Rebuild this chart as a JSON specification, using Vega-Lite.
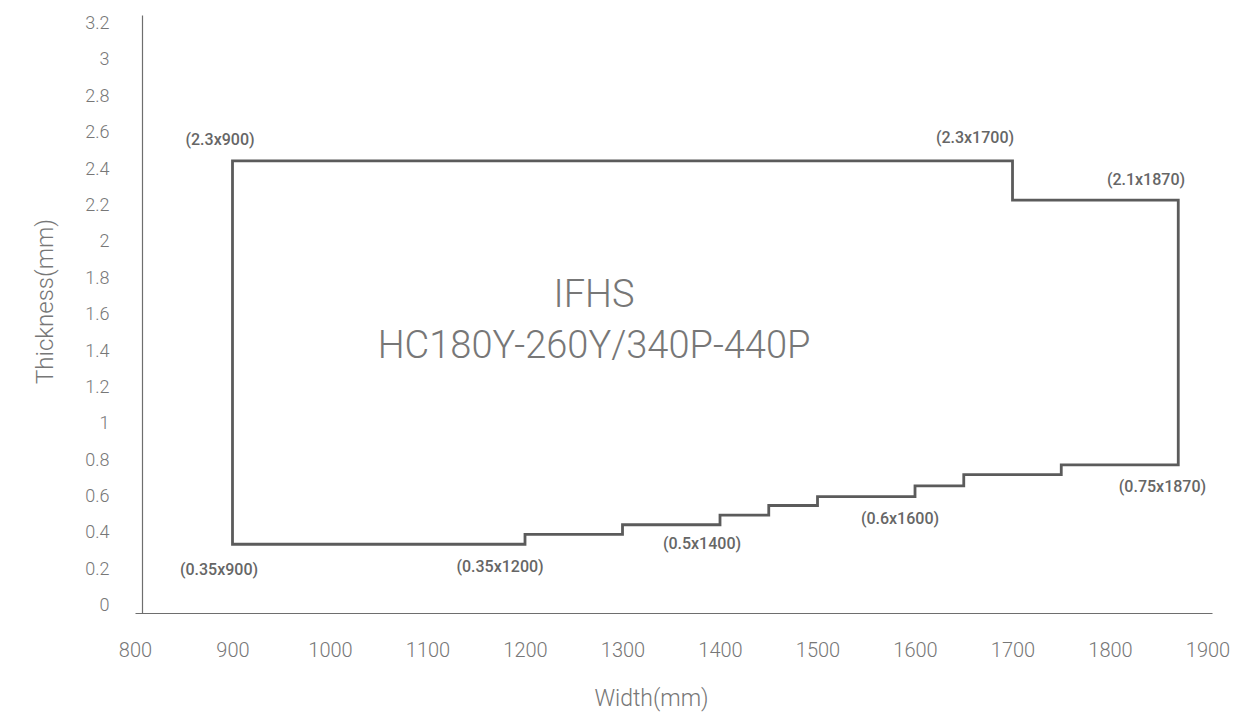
{
  "$schema": "https://vega.github.io/schema/vega-lite/v6.json",
  "width": 1077,
  "height": 598,
  "autosize": {"type": "none"},
  "padding": {"left": 135, "top": 15, "right": 21, "bottom": 102},
  "background": "white",
  "config": {"view": {"stroke": null}, "font": "Roboto"},
  "datasets": {
    "outline": [
      {"step": 1, "width": 900, "thickness": 0.338},
      {"step": 2, "width": 900, "thickness": 2.445},
      {"step": 3, "width": 1700, "thickness": 2.445},
      {"step": 4, "width": 1700, "thickness": 2.229},
      {"step": 5, "width": 1870, "thickness": 2.229},
      {"step": 6, "width": 1870, "thickness": 0.774},
      {"step": 7, "width": 1750, "thickness": 0.774},
      {"step": 8, "width": 1750, "thickness": 0.721},
      {"step": 9, "width": 1650, "thickness": 0.721},
      {"step": 10, "width": 1650, "thickness": 0.659},
      {"step": 11, "width": 1600, "thickness": 0.659},
      {"step": 12, "width": 1600, "thickness": 0.6},
      {"step": 13, "width": 1500, "thickness": 0.6},
      {"step": 14, "width": 1500, "thickness": 0.551},
      {"step": 15, "width": 1450, "thickness": 0.551},
      {"step": 16, "width": 1450, "thickness": 0.498},
      {"step": 17, "width": 1400, "thickness": 0.498},
      {"step": 18, "width": 1400, "thickness": 0.445},
      {"step": 19, "width": 1300, "thickness": 0.445},
      {"step": 20, "width": 1300, "thickness": 0.392},
      {"step": 21, "width": 1200, "thickness": 0.392},
      {"step": 22, "width": 1200, "thickness": 0.338},
      {"step": 23, "width": 900, "thickness": 0.338}
    ],
    "labels": [
      {"label": "(2.3x900)", "x": 887.2, "y": 2.559},
      {"label": "(2.3x1700)", "x": 1661.5, "y": 2.573},
      {"label": "(2.1x1870)", "x": 1836.9, "y": 2.339},
      {"label": "(0.35x900)", "x": 886.2, "y": 0.195},
      {"label": "(0.35x1200)", "x": 1174.4, "y": 0.211},
      {"label": "(0.5x1400)", "x": 1381.5, "y": 0.337},
      {"label": "(0.6x1600)", "x": 1584.6, "y": 0.478},
      {"label": "(0.75x1870)", "x": 1853.8, "y": 0.654}
    ],
    "center": [
      {"text": "IFHS", "x": 1270.8, "y": 1.702},
      {"text": "HC180Y-260Y/340P-440P", "x": 1270.8, "y": 1.424}
    ]
  },
  "layer": [
    {
      "data": {"name": "outline"},
      "mark": {"type": "line", "color": "#5b5b5b", "strokeWidth": 2.8, "strokeJoin": "miter", "strokeCap": "square"},
      "encoding": {
        "x": {
          "field": "width", "type": "quantitative",
          "scale": {"domain": [800, 1904.6], "nice": false, "zero": false},
          "axis": {
            "values": [800, 900, 1000, 1100, 1200, 1300, 1400, 1500, 1600, 1700, 1800, 1900],
            "tickCount": 30,
            "format": "d",
            "ticks": false, "tickSize": 0, "grid": false,
            "domainColor": "#6e6e6e", "domainWidth": 1.2,
            "labelFont": "Roboto", "labelFontWeight": 300, "labelFontSize": 20, "labelColor": "#777777",
            "labelBaseline": "middle", "labelPadding": 37, "labelFlush": false, "labelOverlap": false,
            "title": "Width(mm)", "titleFont": "Roboto", "titleFontWeight": 300, "titleFontSize": 23,
            "titleColor": "#777777", "titlePadding": 27, "titleX": 516
          }
        },
        "y": {
          "field": "thickness", "type": "quantitative",
          "scale": {"domain": [-0.04, 3.247], "nice": false, "zero": false},
          "axis": {
            "values": [0, 0.2, 0.4, 0.6, 0.8, 1, 1.2, 1.4, 1.6, 1.8, 2, 2.2, 2.4, 2.6, 2.8, 3, 3.2],
            "tickCount": 30,
            "format": "~g", "offset": -7,
            "ticks": false, "tickSize": 0, "grid": false,
            "domainColor": "#6e6e6e", "domainWidth": 1.2,
            "labelFont": "Roboto", "labelFontWeight": 300, "labelFontSize": 18, "labelColor": "#777777",
            "labelPadding": 33, "labelFlush": false, "labelOverlap": false,
            "title": "Thickness(mm)", "titleFont": "Roboto", "titleFontWeight": 300, "titleFontSize": 24,
            "titleColor": "#777777", "titlePadding": 27, "titleY": 286
          }
        },
        "order": {"field": "step", "type": "quantitative"}
      }
    },
    {
      "data": {"name": "labels"},
      "mark": {"type": "text", "font": "Roboto", "fontWeight": 500, "fontSize": 16, "color": "#666666", "align": "center", "baseline": "middle"},
      "encoding": {
        "x": {"field": "x", "type": "quantitative"},
        "y": {"field": "y", "type": "quantitative"},
        "text": {"field": "label", "type": "nominal"}
      }
    },
    {
      "data": {"name": "center"},
      "mark": {"type": "text", "font": "Roboto", "fontWeight": 300, "fontSize": 38, "color": "#777777", "align": "center", "baseline": "middle"},
      "encoding": {
        "x": {"field": "x", "type": "quantitative"},
        "y": {"field": "y", "type": "quantitative"},
        "text": {"field": "text", "type": "nominal"}
      }
    }
  ]
}
